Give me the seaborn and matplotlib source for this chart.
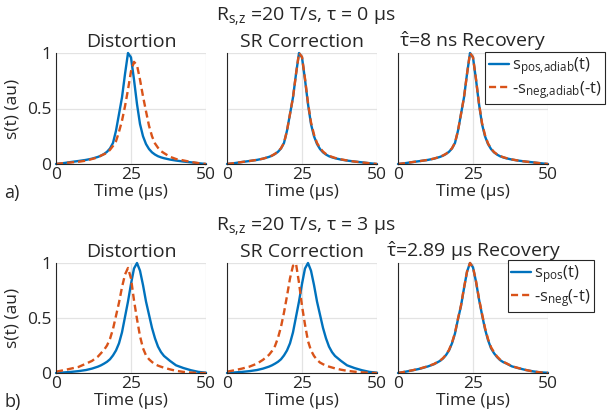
import numpy as np
import pandas as pd
import seaborn as sns
import matplotlib.pyplot as plt
import matplotlib as mpl

# time axis (us), shared by every curve
time_us = [0, 2.5, 5, 7.5, 10, 12, 14, 15, 16, 17, 18, 19, 20, 21, 22, 23, 24, 25,
           26, 27, 28, 29, 30, 31, 32, 33, 34, 35, 36, 38, 40, 42.5, 45, 47.5, 50]

# row a) tau = 0 us
a_pos = [0.0, 0.008, 0.018, 0.027, 0.037, 0.048, 0.064, 0.075, 0.09, 0.11, 0.14, 0.19, 0.30,
         0.45, 0.60, 0.81, 1.0, 0.96, 0.76, 0.54, 0.36, 0.25, 0.18, 0.135, 0.105, 0.085,
         0.07, 0.06, 0.052, 0.04, 0.031, 0.022, 0.015, 0.007, 0.0]
a_neg_dist = [0.0, 0.008, 0.014, 0.02, 0.03, 0.045, 0.06, 0.076, 0.088, 0.10, 0.128, 0.163,
              0.205, 0.29, 0.39, 0.52, 0.67, 0.835, 0.92, 0.89, 0.76, 0.61, 0.475, 0.345,
              0.25, 0.185, 0.146, 0.116, 0.098, 0.065, 0.045, 0.032, 0.018, 0.008, 0.0]
a_neg_sr = [0.0, 0.008, 0.018, 0.027, 0.037, 0.048, 0.064, 0.076, 0.092, 0.112, 0.142, 0.19,
            0.30, 0.45, 0.60, 0.81, 1.0, 0.965, 0.77, 0.55, 0.375, 0.265, 0.19, 0.145, 0.112,
            0.09, 0.075, 0.064, 0.055, 0.042, 0.032, 0.022, 0.014, 0.007, 0.0]
a_neg_rec = [0.0, 0.008, 0.018, 0.027, 0.037, 0.049, 0.065, 0.077, 0.092, 0.112, 0.142, 0.192,
             0.30, 0.45, 0.60, 0.81, 1.0, 0.962, 0.765, 0.545, 0.37, 0.26, 0.186, 0.14, 0.108,
             0.088, 0.073, 0.062, 0.054, 0.041, 0.031, 0.022, 0.014, 0.007, 0.0]

# row b) tau = 3 us
b_pos = [0.0, 0.005, 0.01, 0.017, 0.027, 0.04, 0.058, 0.07, 0.085, 0.102, 0.125, 0.16, 0.205,
         0.27, 0.37, 0.51, 0.65, 0.81, 0.95, 1.0, 0.93, 0.80, 0.65, 0.53, 0.41, 0.315, 0.24,
         0.19, 0.155, 0.11, 0.07, 0.045, 0.025, 0.01, 0.003]
b_neg_dist = [0.012, 0.025, 0.04, 0.055, 0.085, 0.11, 0.15, 0.18, 0.21, 0.25, 0.31, 0.40,
              0.52, 0.64, 0.78, 0.895, 0.955, 0.86, 0.66, 0.49, 0.335, 0.225, 0.16, 0.125,
              0.10, 0.08, 0.067, 0.057, 0.048, 0.033, 0.02, 0.01, 0.004, 0.0, 0.0]
b_neg_sr = [0.012, 0.025, 0.04, 0.058, 0.085, 0.12, 0.165, 0.20, 0.245, 0.32, 0.42, 0.55,
            0.70, 0.86, 0.975, 0.995, 0.82, 0.61, 0.44, 0.29, 0.205, 0.155, 0.12, 0.095,
            0.08, 0.067, 0.058, 0.05, 0.042, 0.03, 0.02, 0.012, 0.006, 0.002, 0.0]
b_pos_rec = [0.0, 0.012, 0.025, 0.04, 0.06, 0.08, 0.11, 0.132, 0.163, 0.205, 0.27, 0.36,
             0.49, 0.61, 0.77, 0.92, 1.0, 0.96, 0.83, 0.67, 0.53, 0.40, 0.30, 0.225, 0.18,
             0.145, 0.118, 0.10, 0.088, 0.06, 0.045, 0.028, 0.015, 0.006, 0.002]
b_neg_rec = [0.0, 0.012, 0.026, 0.042, 0.062, 0.082, 0.112, 0.135, 0.166, 0.21, 0.275, 0.365,
             0.495, 0.615, 0.775, 0.92, 1.0, 0.96, 0.835, 0.675, 0.54, 0.41, 0.31, 0.235,
             0.188, 0.15, 0.122, 0.103, 0.09, 0.062, 0.046, 0.028, 0.014, 0.005, 0.0]

panel_titles = ['Distortion', 'SR Correction']
rec_titles = [r'$\hat{\mathregular{\tau}}$=8 ns Recovery',
              r'$\hat{\mathregular{\tau}}$=2.89 μs Recovery']
row_titles = [r'R$_{\mathregular{s,\!z}}$ =20 T/s, τ = 0 μs',
              r'R$_{\mathregular{s,\!z}}$ =20 T/s, τ = 3 μs']
legend_labels = [[r's$_{\mathregular{pos,\!adiab}}$(t)', r'-s$_{\mathregular{neg,\!adiab}}$(-t)'],
                 [r's$_{\mathregular{pos}}$(t)', r'-s$_{\mathregular{neg}}$(-t)']]
row_tags = ['a)', 'b)']

BLUE = '#0072BD'
ORANGE = '#D95319'
TEXT = '#262626'

sns.set_theme(style='white')
plt.rcParams['font.family'] = ['Open Sans', 'DejaVu Sans']
mpl.rcParams['mathtext.fontset'] = 'custom'
mpl.rcParams['mathtext.rm'] = 'Open Sans'
mpl.rcParams['mathtext.it'] = 'Open Sans'
mpl.rcParams['text.color'] = TEXT

fig = plt.figure(figsize=(6.08, 4.12), dpi=100)

W, H = 608, 412
lefts = [56, 227, 398]
rows = [(53, 164), (263, 373)]
curves = [
    [(a_pos, a_neg_dist), (a_pos, a_neg_sr), (a_pos, a_neg_rec)],
    [(b_pos, b_neg_dist), (b_pos, b_neg_sr), (b_pos_rec, b_neg_rec)],
]

for r, (top, bot) in enumerate(rows):
    for c, left in enumerate(lefts):
        hgt = bot - top
        ax = fig.add_axes([left / W, 1 - bot / H, 150 / W, hgt / H])
        pos, neg = curves[r][c]
        sns.lineplot(x=time_us, y=pos, ax=ax, color=BLUE, lw=1.7, clip_on=False,
                     label=legend_labels[r][0], legend=False)
        sns.lineplot(x=time_us, y=neg, ax=ax, color=ORANGE, lw=1.7, clip_on=False,
                     dashes=False, linestyle=(0, (3.0, 1.7)), label=legend_labels[r][1],
                     legend=False)
        ax.set_xlim(0, 50)
        ax.set_ylim(0, 1)
        ax.set_xticks([0, 25, 50])
        ax.set_yticks([0, 0.5, 1])
        ax.grid(True, color='#e3e3e3', lw=0.9)
        ax.set_axisbelow(True)
        for s in ['top', 'right']:
            ax.spines[s].set_visible(False)
        for s in ['left', 'bottom']:
            ax.spines[s].set_color(TEXT)
            ax.spines[s].set_linewidth(0.8)
        ax.tick_params(direction='in', length=3, width=0.8, color=TEXT,
                       labelsize=12.5, labelcolor=TEXT)
        ax.tick_params(axis='x', pad=2)
        ax.tick_params(axis='y', pad=3.5)
        ax.set_yticklabels(['0', '0.5', '1'] if c == 0 else [])
        ax.set_xticklabels(['0', '25', '50'])
        ax.set_xlabel('Time (μs)', fontsize=12.5, va='center')
        ax.xaxis.set_label_coords(0.5, -(192 - bot if r == 0 else 401 - bot) / hgt)
        if c == 0:
            ax.set_ylabel('s(t) (au)', fontsize=12.5, va='center')
            ax.yaxis.set_label_coords((12 - left) / 150, 0.5)
        else:
            ax.set_ylabel('')
        ttl = panel_titles[c] if c < 2 else rec_titles[r]
        ax.set_title(ttl, fontsize=14, pad=4)
        if c == 2:
            leg = ax.legend(loc='upper right',
                            bbox_to_anchor=((605 if r == 0 else 594) / W,
                                            1 - (52 if r == 0 else 260) / H),
                            bbox_transform=fig.transFigure, fontsize=12,
                            handlelength=1.2, handletextpad=0.2, borderpad=0.2,
                            labelspacing=0.1, borderaxespad=0, fancybox=False,
                            framealpha=1)
            leg.get_frame().set_edgecolor(TEXT)
            leg.get_frame().set_linewidth(0.8)

    fig.text(306 / W, 1 - (17 if r == 0 else 227) / H, row_titles[r],
             ha='center', va='center', fontsize=14)
    fig.text(4 / W, 1 - (193 if r == 0 else 402) / H, row_tags[r],
             ha='left', va='center', fontsize=13)

fig.savefig('out.png', dpi=100)
